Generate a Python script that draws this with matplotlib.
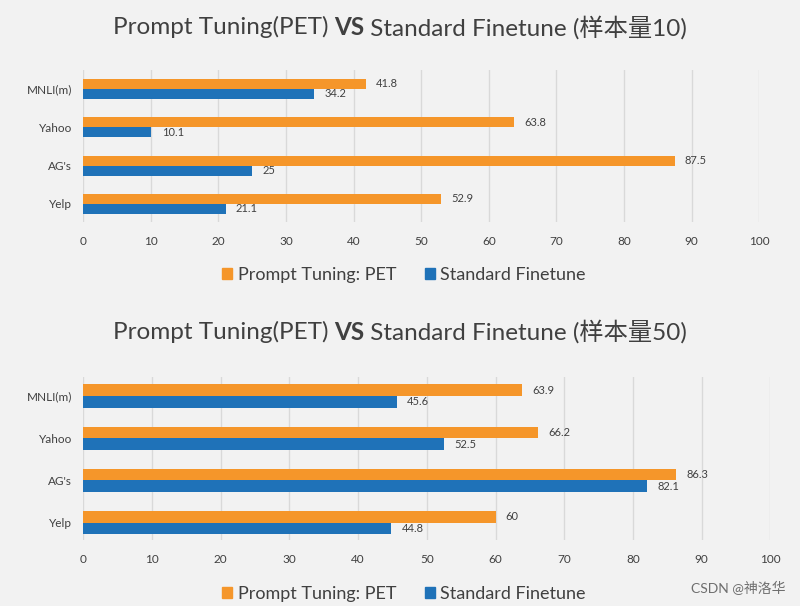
import matplotlib
matplotlib.use("Agg")
import matplotlib.pyplot as plt
from matplotlib.patches import Patch
import numpy as np

categories = ["Yelp", "AG's", "Yahoo", "MNLI(m)"]
pet_10 = [52.9, 87.5, 63.8, 41.8]
std_10 = [21.1, 25, 10.1, 34.2]
pet_50 = [60, 86.3, 66.2, 63.9]
std_50 = [44.8, 82.1, 52.5, 45.6]
xticks = list(range(0, 101, 10))
series_names = ["Prompt Tuning: PET", "Standard Finetune"]
titles = [("Prompt Tuning(PET) ", "VS", " Standard Finetune (样本量10)"),
          ("Prompt Tuning(PET) ", "VS", " Standard Finetune (样本量50)")]

FAM = ["Lato", "Noto Sans CJK SC", "DejaVu Sans"]
plt.rcParams["font.family"] = FAM

BG = "#f2f2f2"
ORANGE = "#f5962a"
BLUE = "#1f72b8"
TXT = "#404040"
GRID = "#d9d9d9"

fig = plt.figure(figsize=(8, 6.06), dpi=100, facecolor=BG)

axes_specs = [
    dict(rect=[0.104, 0.6337, 0.845, 0.2508], ylim=(-0.47, 3.49), bh=0.26,
         pet=pet_10, std=std_10, title_y=0.955, legend_y=1 - 275 / 606),
    dict(rect=[0.104, 0.1089, 0.859, 0.269], ylim=(-0.41, 3.45), bh=0.275,
         pet=pet_50, std=std_50, title_y=0.452, legend_y=1 - 594 / 606),
]

for spec, ttl in zip(axes_specs, titles):
    ax = fig.add_axes(spec["rect"])
    ax.set_facecolor(BG)
    y = np.arange(len(categories))
    bh = spec["bh"]
    ax.barh(y + bh / 2, spec["pet"], height=bh, color=ORANGE, zorder=3)
    ax.barh(y - bh / 2, spec["std"], height=bh, color=BLUE, zorder=3)
    for yi, v in zip(y, spec["pet"]):
        ax.text(v + 1.5, yi + bh / 2, f"{v:g}", va="center", ha="left",
                fontsize=8, color=TXT)
    for yi, v in zip(y, spec["std"]):
        ax.text(v + 1.5, yi - bh / 2, f"{v:g}", va="center", ha="left",
                fontsize=8, color=TXT)
    ax.set_xlim(0, 100)
    ax.set_ylim(*spec["ylim"])
    ax.set_xticks(xticks)
    ax.set_xticklabels([str(t) for t in xticks])
    ax.set_yticks(y)
    ax.set_yticklabels(categories)
    ax.tick_params(axis="both", length=0, labelsize=8.5, labelcolor=TXT)
    ax.tick_params(axis="x", pad=10)
    ax.tick_params(axis="y", pad=8)
    for s in ax.spines.values():
        s.set_visible(False)
    ax.grid(axis="x", color=GRID, linewidth=1, zorder=0)
    ax.grid(axis="y", visible=False)

    handles = [Patch(color=ORANGE), Patch(color=BLUE)]
    fig.legend(handles, series_names, loc="center",
               bbox_to_anchor=(0.505, spec["legend_y"]), ncol=2, frameon=False,
               fontsize=13, handlelength=0.55, handleheight=0.55,
               handletextpad=0.3, columnspacing=1.6, labelcolor=TXT,
               borderpad=0, borderaxespad=0)

    fig.canvas.draw()
    r = fig.canvas.get_renderer()
    parts = []
    for txt, w in zip(ttl, ["normal", "bold", "normal"]):
        t = fig.text(0, spec["title_y"], txt, fontsize=17.5, fontweight=w,
                     color=TXT, va="center", ha="left")
        parts.append(t)
    widths = [p.get_window_extent(renderer=r).width for p in parts]
    total = sum(widths)
    x0 = 400 - total / 2
    for p, w in zip(parts, widths):
        p.set_x(x0 / 800)
        x0 += w

fig.text(0.982, 0.018, "CSDN @神洛华", ha="right", va="bottom", fontsize=10,
         color="#6e6e6e", family=FAM)

fig.savefig("out.png", dpi=100, facecolor=BG)
